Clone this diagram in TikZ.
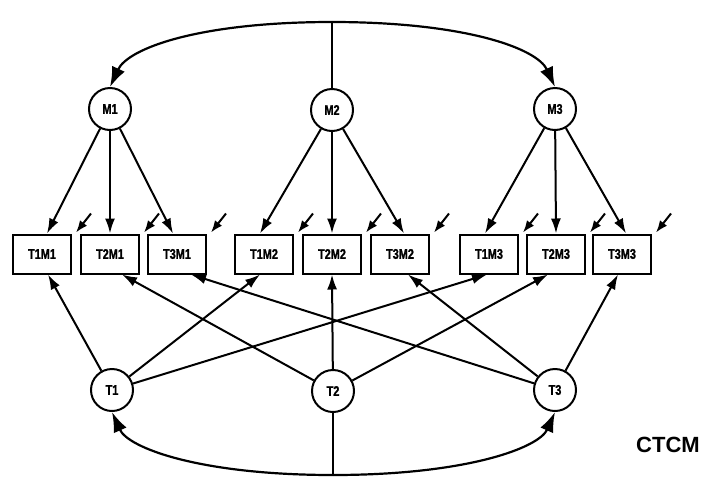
\documentclass[tikz,border=0pt]{standalone}
\usepackage{fontspec}
\setmainfont{Liberation Sans}
\newfontfamily\labfont{Liberation Sans}[FakeStretch=0.78,FakeBold=1.2]
\usetikzlibrary{shapes.geometric,arrows.meta,calc}
\tikzset{
  lat/.style={draw,ellipse,line width=2pt,minimum width=42pt,minimum height=42pt,inner sep=0pt,font=\labfont\bfseries\fontsize{14}{14}\selectfont},
  obs/.style={draw,rectangle,line width=2pt,minimum width=58pt,minimum height=39pt,inner sep=0pt,font=\labfont\bfseries\fontsize{14}{14}\selectfont},
  con/.style={line width=2pt,-{Latex[length=15pt,width=10pt]}},
  cor/.style={line width=2.2pt,-{Latex[length=20pt,width=14pt]}},
  plain/.style={line width=2pt},
  err/.style={line width=2pt,-{Latex[length=12pt,width=9pt]}}
}
\begin{document}
\begin{tikzpicture}[x=1pt,y=-1pt]
\useasboundingbox (0,0) rectangle (709,483);
% latent method factors
\node[lat] (M1) at (110,109) {M1};
\node[lat] (M2) at (332,110) {M2};
\node[lat] (M3) at (555,109) {M3};
% latent trait factors
\node[lat] (T1) at (112,390) {T1};
\node[lat] (T2) at (333,391) {T2};
\node[lat] (T3) at (555,390) {T3};
% observed
\node[obs] (T1M1) at (42,254) {T1M1};
\node[obs] (T2M1) at (110,254) {T2M1};
\node[obs] (T3M1) at (177,254) {T3M1};
\node[obs] (T1M2) at (264,254) {T1M2};
\node[obs] (T2M2) at (332,254) {T2M2};
\node[obs] (T3M2) at (400,254) {T3M2};
\node[obs] (T1M3) at (489,254) {T1M3};
\node[obs] (T2M3) at (556,254) {T2M3};
\node[obs] (T3M3) at (622,254) {T3M3};
% method loadings
\draw[con] (M1) -- ([xshift=5pt]T1M1.north);
\draw[con] (M1) -- (T2M1.north);
\draw[con] (M1) -- ([xshift=-4pt]T3M1.north);
\draw[con] (M2) -- ([xshift=-4pt]T1M2.north);
\draw[con] (M2) -- (T2M2.north);
\draw[con] (M2) -- ([xshift=4pt]T3M2.north);
\draw[con] (M3) -- ([xshift=-4pt]T1M3.north);
\draw[con] (M3) -- (T2M3.north);
\draw[con] (M3) -- ([xshift=4pt]T3M3.north);
% trait loadings
\draw[con] (T1) -- ([xshift=6pt]T1M1.south);
\draw[con] (T1) -- ([xshift=-4pt]T1M2.south);
\draw[con] (T1) -- ([xshift=-2pt]T1M3.south);
\draw[con] (T2) -- ([xshift=12pt]T2M1.south);
\draw[con] (T2) -- (T2M2.south);
\draw[con] (T2) -- ([xshift=-8pt]T2M3.south);
\draw[con] (T3) -- ([xshift=14pt]T3M1.south);
\draw[con] (T3) -- ([xshift=8pt]T3M2.south);
\draw[con] (T3) -- ([xshift=-4pt]T3M3.south);
% error terms
\foreach \b in {T1M1,T2M1,T3M1,T1M2,T2M2,T3M2,T1M3,T2M3,T3M3}{
  \coordinate (e\b) at ($(\b.north east)+(19,-20)$);
  \draw[err] (e\b) -- ($(\b.north east)+(4,-1)$);
}
% method correlations
\coordinate (topc) at (332,22);
\draw[cor] (topc) .. controls (200,22) and (128,48) .. (M1.north);
\draw[cor] (topc) .. controls (464,22) and (537,48) .. (M3.north);
\draw[plain] (topc) -- (M2.north);
% trait correlations
\coordinate (botc) at (333,475);
\draw[cor] (botc) .. controls (200,475) and (128,448) .. (T1.south);
\draw[cor] (botc) .. controls (466,475) and (539,448) .. (T3.south);
\draw[plain] (botc) -- (T2.south);
% label
\node[font=\bfseries\fontsize{22}{22}\selectfont,inner sep=0pt] (lab) at (668,445) {CTCM};
\end{tikzpicture}
\end{document}
